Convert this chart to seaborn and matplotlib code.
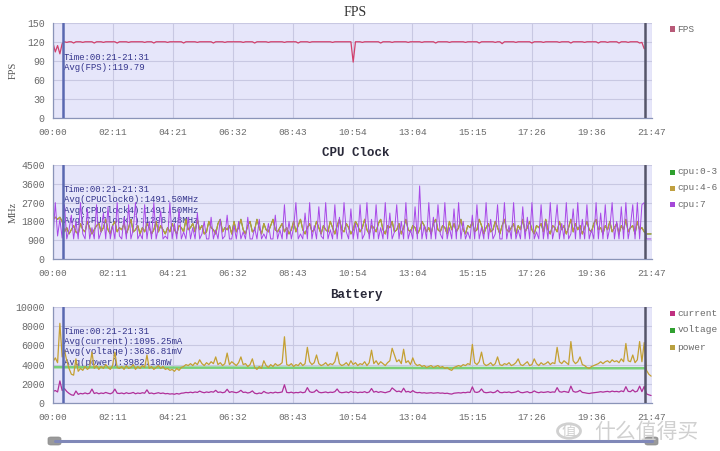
import numpy as np
import pandas as pd
import matplotlib
matplotlib.use("Agg")
import matplotlib.pyplot as plt
import seaborn as sns
from matplotlib.patches import Rectangle, FancyBboxPatch, Circle
from matplotlib.lines import Line2D

# ---------------- data ----------------
TOTAL_S = 1307            # 21:47
STEP_S = 5                # sample spacing of the traces (seconds)
VOLT_STEP_S = 43
MARK_START, MARK_END = 21, 1291   # 00:21 and 21:31

x_tick_labels = ["00:00", "02:11", "04:21", "06:32", "08:43", "10:54",
                 "13:04", "15:15", "17:26", "19:36", "21:47"]

fps = [
    118,104,114,101,117,120,119,120,120,118,120,120,120,119,120,120,120,120,118,120,
    120,120,119,120,120,120,120,120,118,120,120,120,120,119,120,120,120,120,120,120,
    119,120,120,120,118,120,120,120,120,120,119,120,120,120,120,120,120,118,120,120,
    120,120,120,119,120,120,120,120,120,120,118,120,120,120,120,119,120,120,120,120,
    120,120,120,119,120,120,120,120,118,120,120,120,120,120,119,120,120,120,120,120,
    120,119,120,120,120,120,120,118,120,120,120,120,119,120,120,120,120,120,120,120,
    120,120,119,120,120,120,120,120,120,120,120, 88,120,120,120,119,120,120,120,120,
    120,120,120,118,120,120,120,120,119,120,120,120,120,120,120,119,120,120,120,120,
    120,119,120,120,120,120,120,118,120,120,120,120,120,119,120,120,120,120,120,120,
    119,120,120,120,120,120,118,120,120,120,120,120,120,119,120,120,117,120,120,120,
    120,120,119,120,120,120,120,120,120,118,120,120,120,120,119,120,120,120,120,120,
    120,119,120,120,120,120,118,120,120,120,120,120,119,120,120,120,120,120,118,120,
    120,120,119,120,120,120,120,118,120,120,120,119,120,120,120,120,118,119,109,
]

cpu_7 = [
    1000,2700,1100,1900,1000,2600,960,1400,2100,960,1800,960,2700,1200,960,2400,960,1500,960,2600,
    960,1300,2200,960,2500,960,1600,960,2700,1100,960,2000,960,2600,960,1400,2700,960,1200,960,
    2600,960,1800,960,2700,960,1500,2300,960,1100,960,2700,960,1700,960,2400,960,1300,960,2000,
    960,1500,960,2200,960,1200,1800,960,960,2000,960,1400,960,1900,960,1100,2100,960,960,1600,
    960,1800,960,1300,960,2000,960,960,1500,960,1900,960,1200,960,1700,960,960,2100,960,1400,
    960,2600,960,1800,960,1500,2700,960,1200,960,2200,960,2700,960,1600,960,2500,1100,960,2700,
    960,1400,960,2600,960,2000,960,2700,1300,960,2400,960,1700,960,2600,960,1200,2700,960,1900,
    960,2600,960,1500,960,2700,960,2200,960,1300,2600,960,1800,960,2700,960,1400,960,2500,960,
    3500,960,1600,960,2700,960,2000,960,2600,1200,960,2700,960,1500,960,2400,960,2700,960,1800,
    960,1300,960,2100,960,2600,960,1500,960,2700,960,1900,960,1200,2600,960,960,2700,960,1600,
    960,2700,960,1400,960,2500,960,2000,960,2700,960,1300,960,2600,960,1800,960,2700,960,1500,
    2600,960,1700,960,2700,960,1200,2400,960,2700,960,1900,960,2600,960,1400,960,2700,960,2200,
    960,2600,960,1500,2700,960,1800,960,2500,960,2700,960,1600,2600,960,2700,960,2600,2700,960,
    960,960,
]

cpu_4_6 = [
    1900,2000,1900,2000,1800,1300,1500,1200,1400,1600,1300,1200,1700,1400,1300,1800,1500,1200,1400,1600,
    1700,1300,1500,1900,1400,1200,1600,1800,1300,1500,1400,1700,1200,1500,1900,1300,1400,1600,1200,1500,
    1300,1700,1500,1200,1400,1800,1300,1600,1400,1200,1500,1300,1700,1400,1200,1600,1500,1300,1900,1400,
    1500,1700,1300,1900,1400,1600,1200,1300,1800,1500,1400,1200,1700,1900,1300,1500,1400,1600,1200,1800,
    1300,1500,1900,1400,1200,1600,1800,1300,1400,1900,1500,1200,1700,1400,1300,1600,1900,1400,1300,1500,
    1700,1300,1500,1200,1400,1800,1300,1600,1900,1400,1200,1500,1700,1300,1400,1800,1500,1200,1600,1400,
    1300,1800,1500,1200,1600,1900,1400,1300,1700,1500,1200,1400,1800,1600,1300,1500,1900,1400,1200,1600,
    1500,1300,1700,1900,1400,1200,1600,1500,1800,1300,1400,1700,1200,1500,1900,1400,1300,1600,1500,1200,
    1400,1800,1600,1300,1500,1200,1700,1900,1400,1300,1600,1500,1200,1800,1400,1700,1300,1500,1900,1400,
    1200,1600,1500,1800,1300,1400,1900,1600,1200,1500,1700,1300,1400,1800,1500,1200,1600,1900,1400,1300,
    1500,1700,1200,1600,1400,1900,1300,1500,1800,1400,1200,1600,1500,1700,1300,1900,1400,1200,1600,1500,
    1300,1800,1400,1600,1200,1500,1900,1300,1700,1400,1600,1200,1500,1800,1400,1300,1700,1900,1400,1500,
    1200,1600,1400,1800,1300,1500,1700,1200,1600,1400,1900,1300,1500,1600,1200,1800,1400,1500,1300,1200,
    1200,1200,
]
# cpu:0-3 trace lies exactly under cpu:4-6 (identical averages 1491.50 MHz)
cpu_0_3 = list(cpu_4_6)

power = [
    4300,4700,4200,8300,4800,5500,4400,3600,3000,2900,
    4600,3300,3600,3400,3800,3500,3700,5300,3600,3900,
    3500,3800,3600,4000,3700,3500,3900,5300,3700,3600,
    3800,3500,3900,3600,3700,4000,3500,3800,3600,3900,
    3700,5000,3600,3800,3500,3700,3900,3600,3800,3500,
    3600,3400,3500,3300,3600,3400,3700,3800,4000,3900,
    4100,3900,4200,4000,4500,4100,3900,4200,4000,4300,
    4100,4800,4000,4200,3900,4100,5200,4000,4300,4100,
    3900,4200,4800,4000,4100,3800,4000,4600,3700,3500,
    3800,3600,4400,3900,3700,4000,3800,4100,3900,4000,
    4200,6900,4000,3900,4100,3800,4000,3900,4200,3900,
    4100,5800,4300,4000,4200,5000,4100,3900,4000,4200,
    3900,4100,4000,4300,5300,4100,3900,4000,4200,3900,
    4400,4000,4200,3900,4100,4000,4300,3900,4200,5500,
    4100,4400,4000,4300,4100,3900,4200,4400,5700,5000,
    4300,4500,4100,5600,4200,4400,4000,4700,4100,3900,
    4000,3800,3900,3700,3800,3900,3700,3800,3900,3700,
    3800,3600,3700,3500,3400,3700,3800,3900,3800,4000,
    3900,4100,4000,6100,4200,4000,4300,5300,4100,3900,
    4000,4200,3900,4100,4800,4000,3900,4100,4000,4200,
    3900,4000,4200,4600,4000,3900,4100,4300,3900,4000,
    4600,4100,3900,4200,4000,4100,4300,4000,4200,4100,
    5800,4300,4100,4400,4200,4000,6400,4400,4100,4300,
    4800,4000,3900,3700,3600,3800,3900,4000,4100,4300,
    4100,4300,4400,4200,4500,4300,4400,4200,4600,4300,
    6200,4400,4300,5000,4200,4500,6400,4300,6300,3400,
    3000,2800,
]

current = [
    1200,1300,1150,2300,1300,1500,1200,1000, 850, 800,
    1250, 900,1000, 950,1050, 960,1020,1450, 990,1070,
     960,1040, 990,1100,1020, 960,1070,1450,1020, 990,
    1040, 960,1070, 990,1020,1100, 960,1040, 990,1070,
    1020,1370, 990,1040, 960,1020,1070, 990,1040, 960,
     990, 930, 960, 910, 990, 930,1020,1040,1100,1070,
    1130,1070,1150,1100,1240,1130,1070,1150,1100,1180,
    1130,1320,1100,1150,1070,1130,1430,1100,1180,1130,
    1070,1150,1320,1100,1130,1040,1100,1260,1020, 960,
    1040, 990,1210,1070,1020,1100,1040,1130,1070,1100,
    1150,1900,1100,1070,1130,1040,1100,1070,1150,1070,
    1130,1600,1180,1100,1150,1370,1130,1070,1100,1150,
    1070,1130,1100,1180,1460,1130,1070,1100,1150,1070,
    1210,1100,1150,1070,1130,1100,1180,1070,1150,1510,
    1130,1210,1100,1180,1130,1070,1150,1210,1570,1370,
    1180,1240,1130,1540,1150,1210,1100,1290,1130,1070,
    1100,1040,1070,1020,1040,1070,1020,1040,1070,1020,
    1040, 990,1020, 960, 930,1020,1040,1070,1040,1100,
    1070,1130,1100,1680,1150,1100,1180,1460,1130,1070,
    1100,1150,1070,1130,1320,1100,1070,1130,1100,1150,
    1070,1100,1150,1260,1100,1070,1130,1180,1070,1100,
    1260,1130,1070,1150,1100,1130,1180,1100,1150,1130,
    1600,1180,1130,1210,1150,1100,1760,1210,1130,1180,
    1320,1100,1070,1020, 990,1040,1070,1100,1130,1180,
    1130,1180,1210,1150,1240,1180,1210,1150,1260,1180,
    1700,1210,1180,1370,1150,1240,1760,1180,1730, 950,
     850, 780,
]

voltage = [3730,3720,3710,3700,3700,3690,3690,3680,3680,3680,3670,3670,
           3670,3660,3660,3660,3650,3650,3650,3640,3640,3640,3640,3630,
           3630,3630,3620,3620,3620,3620,3620]

fps_avg_text = ["Time:00:21-21:31", "Avg(FPS):119.79"]
cpu_avg_text = ["Time:00:21-21:31", "Avg(CPUClock0):1491.50MHz",
                "Avg(CPUClock4):1491.50MHz", "Avg(CPUClock7):1296.48MHz"]
bat_avg_text = ["Time:00:21-21:31", "Avg(current):1095.25mA",
                "Avg(voltage):3636.81mV", "Avg(power):3982.18mW"]

# ---------------- styling ----------------
sns.set_theme(style="white")
MONO = ['Liberation Mono', 'DejaVu Sans Mono', 'DejaVu Sans']
SERIF = ['Liberation Serif', 'DejaVu Serif']
plt.rcParams['font.family'] = MONO

C_FPS = '#d2406c'
C_CPU0 = '#2ea02e'
C_CPU4 = '#c49a38'
C_CPU7 = '#a848e8'
C_CUR = '#b0309a'
C_VOLT = '#78d078'
C_POW = '#c4a032'
BG = '#e6e6fa'
GRID = '#c8c8e2'
AXC = '#8a94b8'
TXT = '#34348c'

W, H = 720, 451
fig = plt.figure(figsize=(7.2, 4.51), dpi=100)
fig.patch.set_facecolor('white')

def fx(x):
    return x / W

def fy(y):
    return 1 - y / H

def series_df(vals, step):
    return pd.DataFrame({"t": np.arange(len(vals)) * step, "v": vals})

def make_ax(top, bottom, ymax, ystep):
    ax = fig.add_axes([fx(53), fy(bottom), fx(652) - fx(53), (bottom - top) / H])
    ax.set_facecolor(BG)
    ax.set_xlim(0, TOTAL_S)
    ax.set_ylim(0, ymax)
    major = np.linspace(0, TOTAL_S, len(x_tick_labels))
    ax.set_xticks(major)
    ax.set_xticklabels(x_tick_labels)
    ax.set_xticks((major[:-1] + major[1:]) / 2, minor=True)
    ax.set_yticks(np.arange(0, ymax + 1, ystep))
    ax.set_yticks(np.arange(0, ymax + 1, ystep / 5), minor=True)
    ax.grid(True, which='major', color=GRID, lw=0.8)
    ax.set_axisbelow(True)
    for s in ['top', 'right']:
        ax.spines[s].set_visible(False)
    for s in ['left', 'bottom']:
        ax.spines[s].set_color(AXC)
        ax.spines[s].set_linewidth(0.9)
    ax.tick_params(axis='both', which='major', direction='out', length=4, width=0.8,
                   color=AXC, labelsize=6.8, labelcolor='#6a6a6a', pad=2)
    ax.tick_params(axis='y', which='major', labelsize=7.1)
    ax.tick_params(axis='both', which='minor', direction='out', length=2, width=0.6,
                   color=AXC)
    ax.tick_params(axis='x', which='major', pad=3)
    ax.set_xlabel('')
    ax.set_ylabel('')
    return ax

def markers(ax):
    ax.axvline(MARK_START, color='#5a68b0', lw=1.8, zorder=5)
    ax.axvline(MARK_END, color='#55556a', lw=1.8, zorder=5)

def annot(ax, lines, y0, dy):
    for i, s in enumerate(lines):
        ax.text(fx(64), fy(y0 + i * dy), s, transform=fig.transFigure, fontsize=6.5,
                color=TXT, va='center', ha='left', zorder=1.5)

def legend(items, x, y0, dy):
    for i, (lab, col) in enumerate(items):
        yy = y0 + i * dy
        fig.add_artist(Rectangle((fx(x - 2.5), fy(yy + 2.5)), 5 / W, 5 / H,
                                 transform=fig.transFigure, color=col, lw=0))
        fig.text(fx(x + 5.5), fy(yy), lab, fontsize=6.8, color='#6a6a6a',
                 va='center', ha='left')

# ---- FPS ----
ax1 = make_ax(22.7, 118, 150, 30)
sns.lineplot(data=series_df(fps, STEP_S), x="t", y="v", ax=ax1, color=C_FPS,
             lw=0.9, errorbar=None, estimator=None)
ax1.set_xlabel(''); ax1.set_ylabel('')
markers(ax1)
annot(ax1, fps_avg_text, 57, 11)
fig.text(fx(355), fy(12), "FPS", fontsize=10, color='#333333', ha='center',
         va='center', family=SERIF)
fig.text(fx(13), fy(70), "FPS", fontsize=7.5, color='#555555', ha='center',
         va='center', rotation=90, family=SERIF)
legend([("FPS", '#b85a78')], 672, 29, 16)

# ---- CPU Clock ----
ax2 = make_ax(165, 259, 4500, 900)
for vals, col, lw in [(cpu_0_3, C_CPU0, 0.8), (cpu_4_6, C_CPU4, 0.8), (cpu_7, C_CPU7, 0.7)]:
    sns.lineplot(data=series_df(vals, STEP_S), x="t", y="v", ax=ax2, color=col,
                 lw=lw, errorbar=None, estimator=None)
ax2.set_xlabel(''); ax2.set_ylabel('')
markers(ax2)
annot(ax2, cpu_avg_text, 189, 10.6)
fig.text(fx(356), fy(153), "CPU Clock", fontsize=9, color='#2a2a3a', ha='center',
         va='center', weight='bold')
fig.text(fx(13), fy(212), "MHz", fontsize=7.5, color='#555555', ha='center',
         va='center', rotation=90, family=SERIF)
legend([("cpu:0-3", '#2ea02e'), ("cpu:4-6", '#c0a040'), ("cpu:7", '#a548d8')],
       672, 172, 16)

# ---- Battery ----
ax3 = make_ax(307, 403, 10000, 2000)
sns.lineplot(data=series_df(current, STEP_S), x="t", y="v", ax=ax3, color=C_CUR,
             lw=0.9, errorbar=None, estimator=None)
sns.lineplot(data=series_df(voltage, VOLT_STEP_S), x="t", y="v", ax=ax3, color=C_VOLT,
             lw=1.8, errorbar=None, estimator=None)
sns.lineplot(data=series_df(power, STEP_S), x="t", y="v", ax=ax3, color=C_POW,
             lw=0.9, errorbar=None, estimator=None)
ax3.set_xlabel(''); ax3.set_ylabel('')
markers(ax3)
annot(ax3, bat_avg_text, 331.5, 10.2)
fig.text(fx(356), fy(295), "Battery", fontsize=9, color='#2a2a3a', ha='center',
         va='center', weight='bold')
legend([("current", '#c03080'), ("voltage", '#30a030'), ("power", '#b8a040')],
       672, 313, 17)

# ---- bottom slider ----
fig.add_artist(Line2D([fx(55), fx(652)], [fy(441), fy(441)], transform=fig.transFigure,
                      color='#8088b8', lw=2.2))
for x0 in (48, 645):
    fig.add_artist(FancyBboxPatch((fx(x0), fy(445)), 13 / W, 8 / H,
                                  boxstyle="round,pad=0,rounding_size=0.004",
                                  transform=fig.transFigure, facecolor='#9a9a9a',
                                  edgecolor='#8a8a8a', lw=0.5))

# ---- watermark ----
CJK = ['Noto Sans CJK SC', 'DejaVu Sans']
fig.add_artist(Circle((fx(569), fy(431)), 11.5 / W, transform=fig.transFigure,
                      fill=False, edgecolor='#d0d0d0', lw=2))
fig.text(fx(569), fy(431), "值", fontsize=10.5, color='#d0d0d0', ha='center',
         va='center', family=CJK)
fig.text(fx(594), fy(432), "什么值得买", fontsize=15, color='#d0d0d0', ha='left',
         va='center', family=CJK)

fig.savefig("out.png", dpi=100, facecolor='white')
